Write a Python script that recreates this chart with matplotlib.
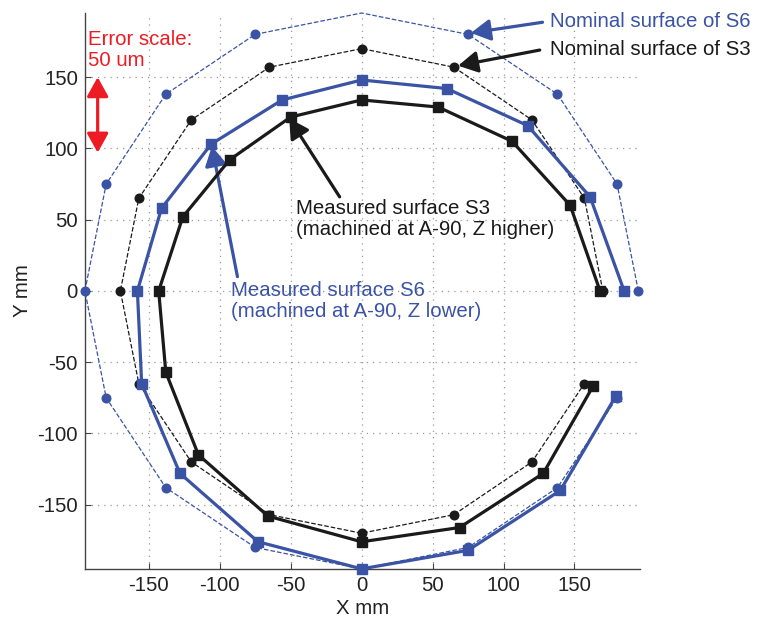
import numpy as np
import matplotlib
matplotlib.use('Agg')
import matplotlib.pyplot as plt

plt.rcParams['font.family'] = ['Liberation Sans', 'DejaVu Sans']
plt.rcParams['axes.unicode_minus'] = False

# nominal surfaces (16 points each, open contour)
nom_s6_x = [195, 180, 138, 75, 0, -75, -138, -180, -195, -180, -138, -75, 0, 75, 138, 180]
nom_s6_y = [0, 75, 138, 180, 195, 180, 138, 75, 0, -75, -138, -180, -195, -180, -138, -75]
nom_s3_x = [170, 157, 120, 65, 0, -65, -120, -157, -170, -157, -120, -65, 0, 65, 120, 157]
nom_s3_y = [0, 65, 120, 157, 170, 157, 120, 65, 0, -65, -120, -157, -170, -157, -120, -65]

# measured surfaces
meas_s6_x = [185, 161, 117, 60, 0, -56, -106, -141, -158, -155, -128, -73, 0, 75, 140, 179]
meas_s6_y = [0, 66, 116, 142, 148, 134, 103, 58, 0, -65, -128, -176, -195, -182, -140, -74]
meas_s3_x = [168, 147, 106, 54, 0, -50, -93, -126, -143, -138, -115, -66, 0, 69, 128, 163]
meas_s3_y = [0, 60, 105, 129, 134, 122, 92, 52, 0, -57, -115, -158, -176, -166, -128, -67]

blue = '#3a53a4'
black = '#1a1a1a'
red = '#ed1c24'
fs = 14.7

fig = plt.figure(figsize=(7.58, 6.19), dpi=100)
ax = fig.add_axes([0.112, 0.081, 0.732, 0.898])

ax.plot(nom_s6_x, nom_s6_y, '--o', color=blue, lw=0.9, ms=6.2, clip_on=False,
        markevery=[i for i in range(16) if i != 4], zorder=3)
ax.plot(nom_s3_x, nom_s3_y, '--o', color=black, lw=0.9, ms=6.2, clip_on=False, zorder=3)
ax.plot(meas_s6_x, meas_s6_y, '-s', color=blue, lw=2.3, ms=7, clip_on=False, zorder=4)
ax.plot(meas_s3_x, meas_s3_y, '-s', color=black, lw=2.3, ms=7, clip_on=False, zorder=4)

ax.set_xlim(-195, 196)
ax.set_ylim(-195, 195)
ax.set_xticks([-150, -100, -50, 0, 50, 100, 150])
ax.set_yticks([-150, -100, -50, 0, 50, 100, 150])
ax.grid(True, linestyle=(0, (1, 4)), color='#999999', lw=0.9)
ax.set_axisbelow(True)
for s in ['top', 'right']:
    ax.spines[s].set_visible(False)
for s in ['left', 'bottom']:
    ax.spines[s].set_color('#444444')
    ax.spines[s].set_linewidth(1.0)
ax.tick_params(direction='in', length=4, color='#444444', labelsize=fs, labelcolor='#222222', pad=5)
ax.set_xlabel('X mm', fontsize=fs, color='#222222', labelpad=3)
ax.set_ylabel('Y mm', fontsize=fs, color='#222222', labelpad=4)

# error scale
ax.text(-193, 169, 'Error scale:\n50 um', color=red, fontsize=fs, va='center', ha='left',
        linespacing=1.15)
ax.annotate('', xy=(-186, 150), xytext=(-186, 97),
            arrowprops=dict(arrowstyle='<|-|>,head_width=0.25,head_length=0.45', color=red,
                            lw=2.3, mutation_scale=26, shrinkA=0, shrinkB=0))

arr = dict(arrowstyle='-|>,head_width=0.25,head_length=0.45', lw=2.3, mutation_scale=26,
           shrinkA=0, shrinkB=0)

ax.text(133, 189, 'Nominal surface of S6', color=blue, fontsize=fs, va='center', ha='left')
ax.annotate('', xy=(77, 181), xytext=(127.5, 188.5), arrowprops=dict(arr, color=blue))

ax.text(133, 169.5, 'Nominal surface of S3', color=black, fontsize=fs, va='center', ha='left')
ax.annotate('', xy=(68, 158), xytext=(125.5, 169), arrowprops=dict(arr, color=black))

ax.text(-46.5, 50.5, 'Measured surface S3\n(machined at A-90, Z higher)', color=black,
        fontsize=fs, va='center', ha='left', linespacing=1.12)
ax.annotate('', xy=(-51, 121), xytext=(-15.5, 66), arrowprops=dict(arr, color=black))

ax.text(-92, -7, 'Measured surface S6\n(machined at A-90, Z lower)', color=blue,
        fontsize=fs, va='center', ha='left', linespacing=1.12)
ax.annotate('', xy=(-105.5, 101.5), xytext=(-87.5, 10), arrowprops=dict(arr, color=blue))

fig.savefig('out.png', dpi=100)
